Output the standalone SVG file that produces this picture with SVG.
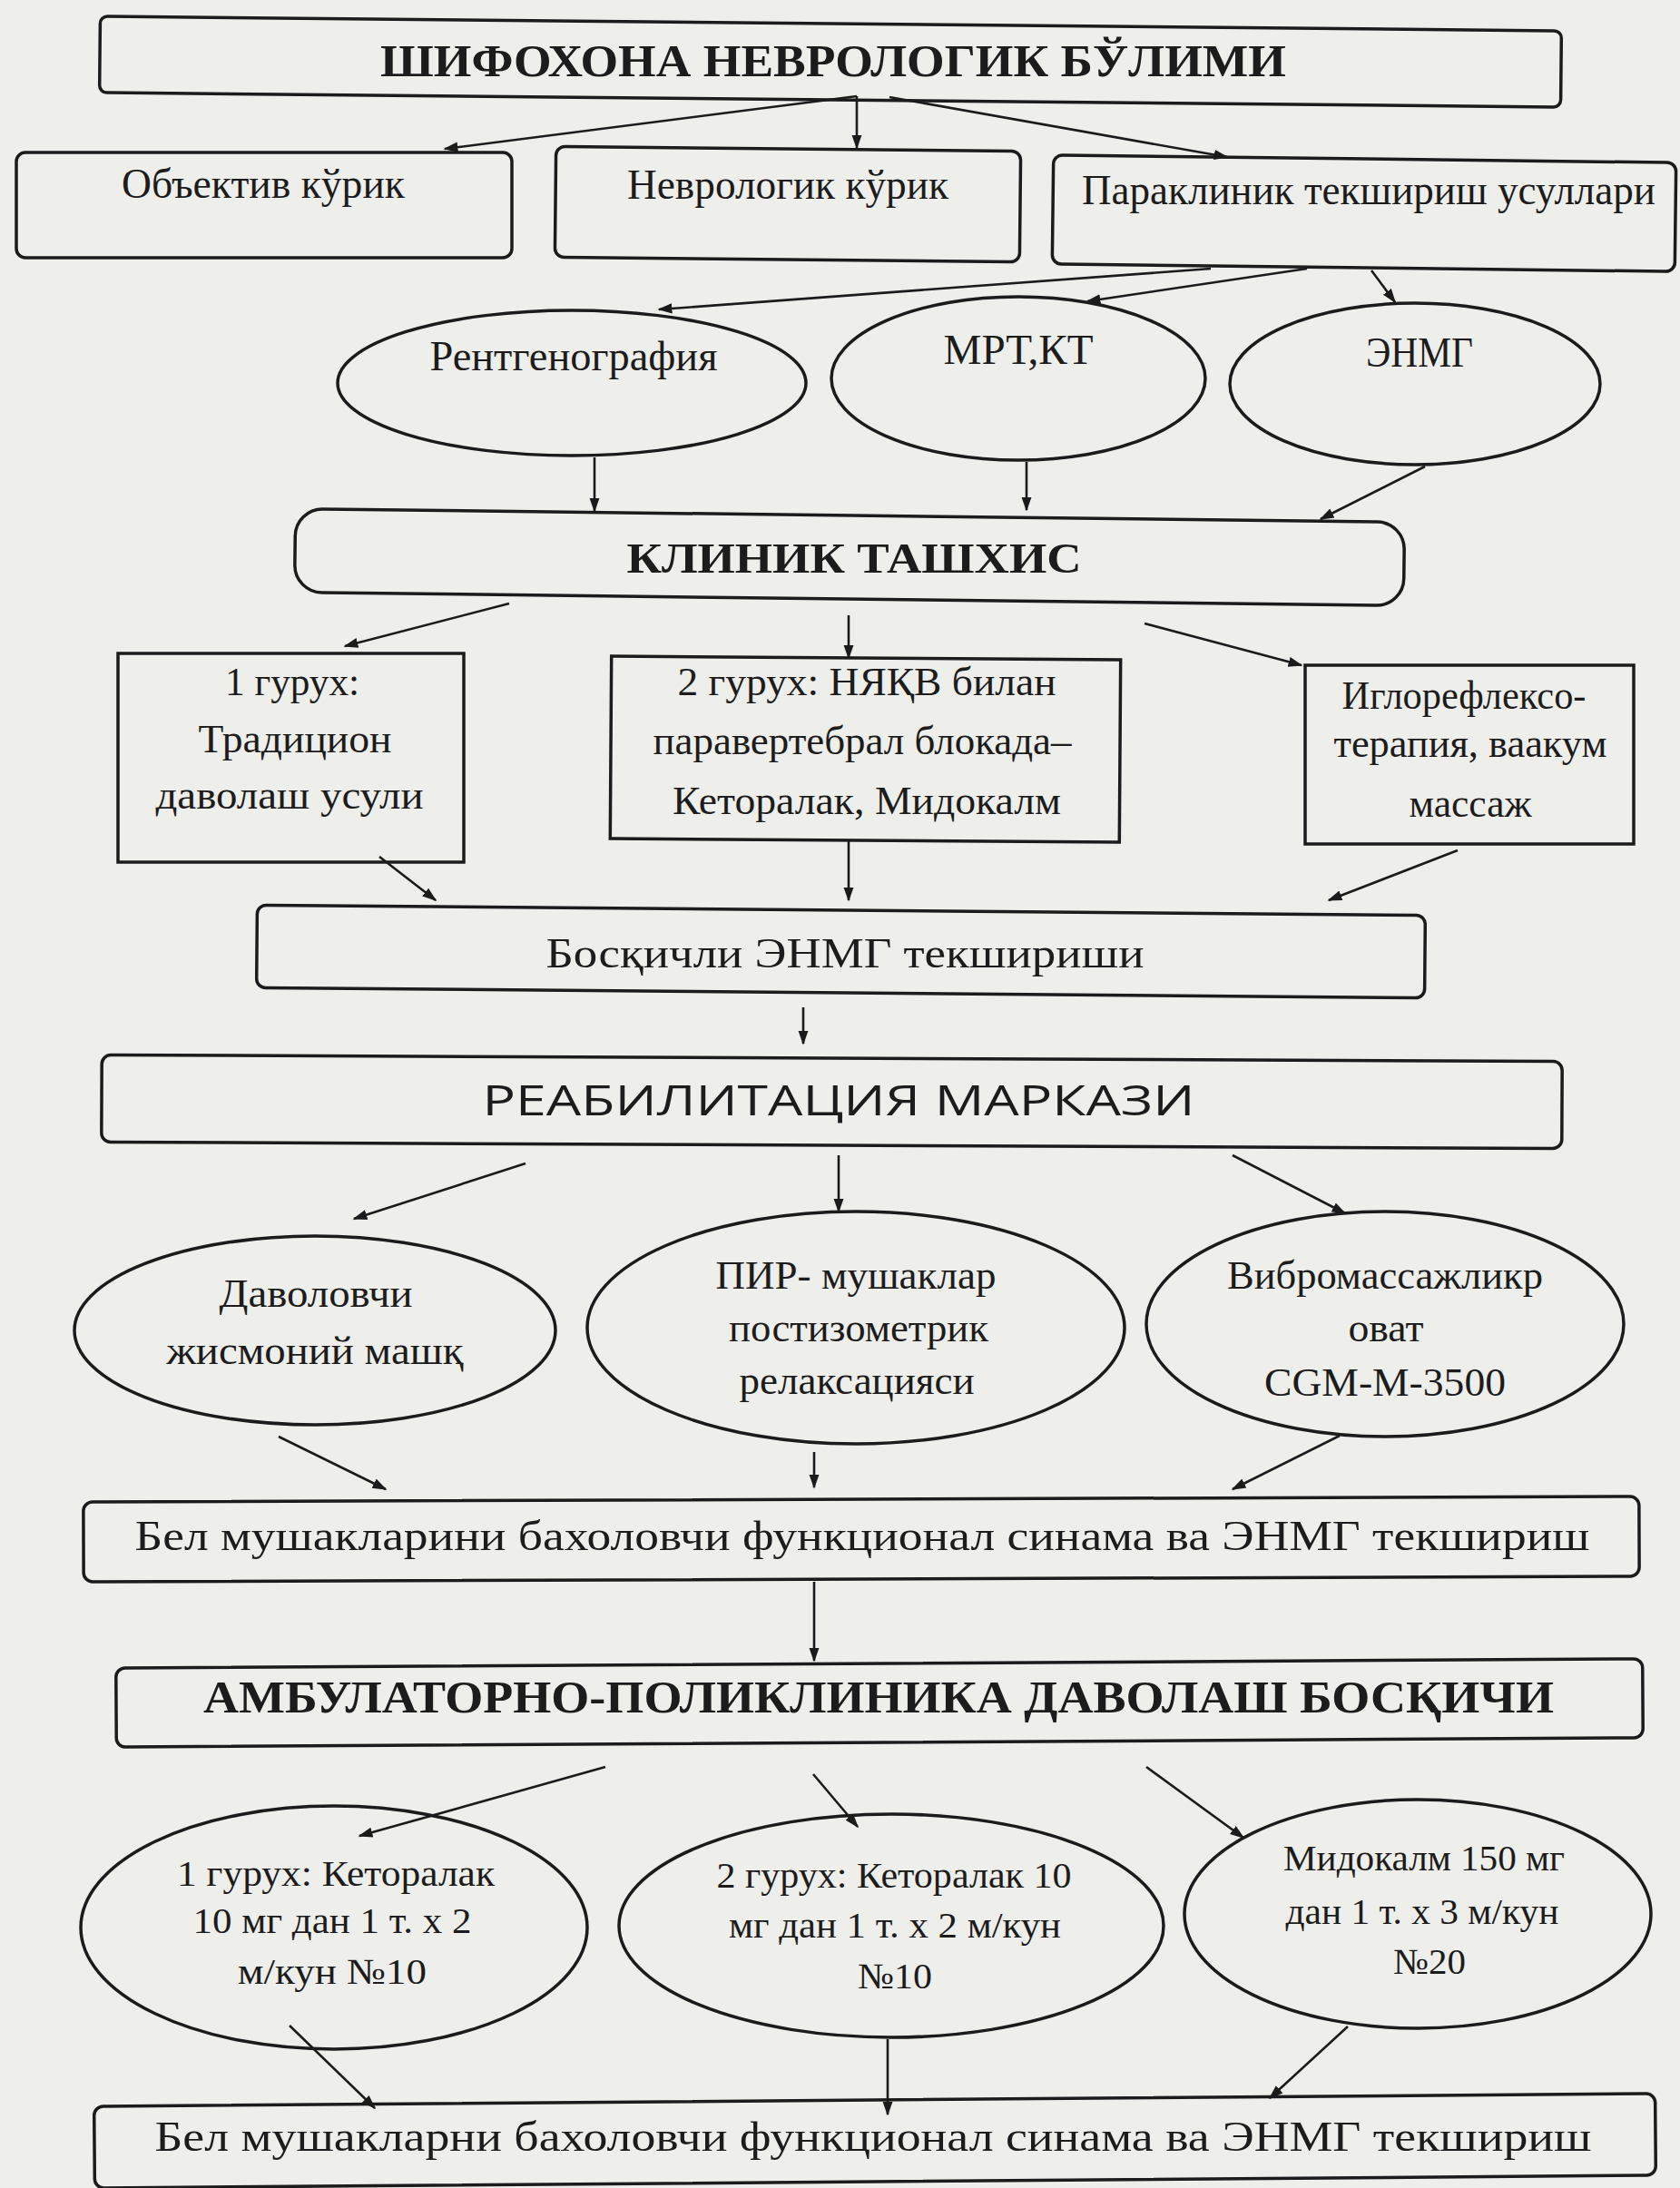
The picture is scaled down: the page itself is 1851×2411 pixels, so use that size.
<svg xmlns="http://www.w3.org/2000/svg" width="1851" height="2411" viewBox="0 0 1851 2411">
<style>
.bx{fill:none;stroke:#1b1b1b;stroke-width:3.5}
.el{fill:none;stroke:#1b1b1b;stroke-width:3.5}
.t{font-family:"Liberation Serif","Times New Roman",serif;font-size:46px;fill:#1c1c1c;text-anchor:middle}
.t2{font-family:"Liberation Serif","Times New Roman",serif;font-size:44px;fill:#1c1c1c;text-anchor:middle}
.t3{font-family:"Liberation Serif","Times New Roman",serif;font-size:40px;fill:#1c1c1c;text-anchor:middle}
.tb{font-family:"Liberation Serif","Times New Roman",serif;font-weight:bold;fill:#1c1c1c;text-anchor:middle}
.ts{font-family:"Open Sans","Noto Sans",sans-serif;fill:#1c1c1c;text-anchor:middle}
.ar{stroke:#1b1b1b;stroke-width:2.6;fill:none;marker-end:url(#ah)}
</style>
<defs>
<marker id="ah" viewBox="0 0 10 10" refX="9" refY="5" markerWidth="16" markerHeight="16" markerUnits="userSpaceOnUse" orient="auto"><path d="M0,1.5 L10,5 L0,8.5 z" fill="#1b1b1b"/></marker>
</defs>
<rect width="1851" height="2411" fill="#eeeeeb"/>

<g id="connectors">
<line class="ar" x1="944" y1="106" x2="490" y2="164"/>
<line class="ar" x1="944" y1="106" x2="944" y2="163"/>
<line class="ar" x1="980" y1="107" x2="1352" y2="173"/>
<line class="ar" x1="1334" y1="296" x2="726" y2="341"/>
<line class="ar" x1="1440" y1="296" x2="1198" y2="332"/>
<line class="ar" x1="1511" y1="298" x2="1537" y2="333"/>
<line class="ar" x1="655" y1="504" x2="655" y2="563"/>
<line class="ar" x1="1131" y1="509" x2="1131" y2="562"/>
<line class="ar" x1="1570" y1="514" x2="1455" y2="572"/>
<line class="ar" x1="561" y1="665" x2="380" y2="712"/>
<line class="ar" x1="935" y1="678" x2="935" y2="725"/>
<line class="ar" x1="1261" y1="687" x2="1434" y2="733"/>
<line class="ar" x1="418" y1="944" x2="480" y2="992"/>
<line class="ar" x1="935" y1="927" x2="935" y2="992"/>
<line class="ar" x1="1606" y1="937" x2="1464" y2="992"/>
<line class="ar" x1="885" y1="1110" x2="885" y2="1150"/>
<line class="ar" x1="579" y1="1282" x2="390" y2="1343"/>
<line class="ar" x1="924" y1="1273" x2="924" y2="1335"/>
<line class="ar" x1="1358" y1="1273" x2="1482" y2="1337"/>
<line class="ar" x1="307" y1="1583" x2="425" y2="1641"/>
<line class="ar" x1="897" y1="1600" x2="897" y2="1639"/>
<line class="ar" x1="1476" y1="1582" x2="1358" y2="1641"/>
<line class="ar" x1="897" y1="1743" x2="897" y2="1830"/>
<line class="ar" x1="667" y1="1947" x2="396" y2="2023"/>
<line class="ar" x1="896" y1="1955" x2="945" y2="2013"/>
<line class="ar" x1="1263" y1="1947" x2="1370" y2="2025"/>
<line class="ar" x1="319" y1="2232" x2="413" y2="2323"/>
<line class="ar" x1="978" y1="2247" x2="978" y2="2330"/>
<line class="ar" x1="1485" y1="2233" x2="1399" y2="2312"/>
</g>

<g id="n-shifoxona">
<rect class="bx" x="110" y="26" width="1610" height="84" rx="8" transform="rotate(0.57 915 68)"/>
<text class="tb" x="918" y="84" font-size="50" textLength="998" lengthAdjust="spacingAndGlyphs">ШИФОХОНА НЕВРОЛОГИК БЎЛИМИ</text>
</g>
<g id="n-obektiv">
<rect class="bx" x="18" y="168" width="546" height="116" rx="10"/>
<text class="t" x="290" y="218" textLength="312" lengthAdjust="spacingAndGlyphs">Объектив кўрик</text>
</g>
<g id="n-nevrologik">
<rect class="bx" x="612" y="164" width="512" height="122" rx="10" transform="rotate(0.6 868 225)"/>
<text class="t" x="868" y="219" textLength="354" lengthAdjust="spacingAndGlyphs">Неврологик кўрик</text>
</g>
<g id="n-paraklinik">
<rect class="bx" x="1160" y="175" width="686" height="120" rx="10" transform="rotate(0.7 1503 235)"/>
<text class="t" x="1508" y="225" textLength="632" lengthAdjust="spacingAndGlyphs">Параклиник текшириш усуллари</text>
</g>

<g id="n-rentgen">
<ellipse class="el" cx="630" cy="422" rx="258" ry="80"/>
<text class="t" x="632" y="408" textLength="317" lengthAdjust="spacingAndGlyphs">Рентгенография</text>
</g>
<g id="n-mrt">
<ellipse class="el" cx="1122" cy="417" rx="206" ry="90"/>
<text class="t" x="1122" y="401" textLength="165" lengthAdjust="spacingAndGlyphs">МРТ,КТ</text>
</g>
<g id="n-enmg1">
<ellipse class="el" cx="1559" cy="423" rx="204" ry="89"/>
<text class="t" x="1564" y="404" textLength="118" lengthAdjust="spacingAndGlyphs">ЭНМГ</text>
</g>

<g id="n-klinik">
<rect class="bx" x="325" y="568" width="1222" height="92" rx="30" transform="rotate(0.7 936 614)"/>
<text class="tb" x="941" y="631" font-size="46" textLength="501" lengthAdjust="spacingAndGlyphs">КЛИНИК ТАШХИС</text>
</g>

<g id="n-guruh1">
<rect class="bx" x="130" y="720" width="381" height="230"/>
<text class="t2" x="322" y="766" textLength="148" lengthAdjust="spacingAndGlyphs">1 гурух:</text>
<text class="t2" x="325" y="829" textLength="213" lengthAdjust="spacingAndGlyphs">Традицион</text>
<text class="t2" x="319" y="891" textLength="295" lengthAdjust="spacingAndGlyphs">даволаш усули</text>
</g>
<g id="n-guruh2">
<rect class="bx" x="673" y="725" width="561" height="201" transform="rotate(0.4 953 825)"/>
<text class="t2" x="955" y="766" textLength="417" lengthAdjust="spacingAndGlyphs">2 гурух: НЯҚВ билан</text>
<text class="t2" x="950" y="831" textLength="461" lengthAdjust="spacingAndGlyphs">паравертебрал блокада–</text>
<text class="t2" x="955" y="897" textLength="428" lengthAdjust="spacingAndGlyphs">Кеторалак, Мидокалм</text>
</g>
<g id="n-igloref">
<rect class="bx" x="1438" y="733" width="362" height="197"/>
<text class="t2" x="1613" y="781" textLength="269" lengthAdjust="spacingAndGlyphs">Иглорефлексо-</text>
<text class="t2" x="1620" y="834" textLength="301" lengthAdjust="spacingAndGlyphs">терапия, ваакум</text>
<text class="t2" x="1620" y="900" textLength="135" lengthAdjust="spacingAndGlyphs">массаж</text>
</g>

<g id="n-bosqichli">
<rect class="bx" x="283" y="1003" width="1287" height="91" rx="10" transform="rotate(0.5 926 1048)"/>
<text class="t" x="931" y="1066" textLength="659" lengthAdjust="spacingAndGlyphs">Босқичли ЭНМГ текшириши</text>
</g>

<g id="n-reabilitatsiya">
<rect class="bx" x="112" y="1166" width="1609" height="96" rx="10" transform="rotate(0.25 916 1214)"/>
<text class="ts" x="924" y="1229" font-size="46" textLength="785" lengthAdjust="spacingAndGlyphs">РЕАБИЛИТАЦИЯ МАРКАЗИ</text>
</g>

<g id="n-davolovchi">
<ellipse class="el" cx="347" cy="1466" rx="265" ry="104"/>
<text class="t2" x="348" y="1440" textLength="213" lengthAdjust="spacingAndGlyphs">Даволовчи</text>
<text class="t2" x="347" y="1503" textLength="327" lengthAdjust="spacingAndGlyphs">жисмоний машқ</text>
</g>
<g id="n-pir">
<ellipse class="el" cx="943" cy="1463" rx="296" ry="128"/>
<text class="t2" x="943" y="1420" textLength="309" lengthAdjust="spacingAndGlyphs">ПИР- мушаклар</text>
<text class="t2" x="946" y="1478" textLength="286" lengthAdjust="spacingAndGlyphs">постизометрик</text>
<text class="t2" x="944" y="1536" textLength="259" lengthAdjust="spacingAndGlyphs">релаксацияси</text>
</g>
<g id="n-vibro">
<ellipse class="el" cx="1526" cy="1459" rx="263" ry="124"/>
<text class="t2" x="1526" y="1420" textLength="348" lengthAdjust="spacingAndGlyphs">Вибромассажликр</text>
<text class="t2" x="1527" y="1478" textLength="83" lengthAdjust="spacingAndGlyphs">оват</text>
<text class="t2" x="1526" y="1538" textLength="266" lengthAdjust="spacingAndGlyphs">CGM-M-3500</text>
</g>

<g id="n-bel1">
<rect class="bx" x="92" y="1652" width="1714" height="88" rx="10" transform="rotate(-0.2 949 1696)"/>
<text x="950" y="1708" class="t" font-size="52" textLength="1603" lengthAdjust="spacingAndGlyphs">Бел мушакларини бахоловчи функционал синама ва ЭНМГ текшириш</text>
</g>

<g id="n-ambulator">
<rect class="bx" x="128" y="1833" width="1682" height="87" rx="10" transform="rotate(-0.35 969 1876)"/>
<text class="tb" x="968" y="1887" font-size="50" textLength="1488" lengthAdjust="spacingAndGlyphs">АМБУЛАТОРНО-ПОЛИКЛИНИКА ДАВОЛАШ БОСҚИЧИ</text>
</g>

<g id="n-ket1">
<ellipse class="el" cx="368" cy="2124" rx="279" ry="134"/>
<text class="t3" x="370" y="2078" textLength="350" lengthAdjust="spacingAndGlyphs">1 гурух: Кеторалак</text>
<text class="t3" x="366" y="2130" textLength="307" lengthAdjust="spacingAndGlyphs">10 мг дан 1 т. х 2</text>
<text class="t3" x="366" y="2186" textLength="208" lengthAdjust="spacingAndGlyphs">м/кун  №10</text>
</g>
<g id="n-ket2">
<ellipse class="el" cx="982" cy="2122" rx="300" ry="123"/>
<text class="t3" x="985" y="2080" textLength="391" lengthAdjust="spacingAndGlyphs">2 гурух: Кеторалак 10</text>
<text class="t3" x="986" y="2135" textLength="366" lengthAdjust="spacingAndGlyphs">мг дан 1 т. х 2 м/кун</text>
<text class="t3" x="986" y="2191" textLength="82" lengthAdjust="spacingAndGlyphs">№10</text>
</g>
<g id="n-midokalm">
<ellipse class="el" cx="1562" cy="2109" rx="257" ry="126"/>
<text class="t3" x="1569" y="2061" textLength="310" lengthAdjust="spacingAndGlyphs">Мидокалм 150 мг</text>
<text class="t3" x="1567" y="2120" textLength="301" lengthAdjust="spacingAndGlyphs">дан 1 т. х 3 м/кун</text>
<text class="t3" x="1575" y="2175" textLength="80" lengthAdjust="spacingAndGlyphs">№20</text>
</g>

<g id="n-bel2">
<rect class="bx" x="104" y="2314" width="1720" height="90" rx="10" transform="rotate(-0.47 964 2359)"/>
<text class="t" x="962" y="2370" font-size="52" textLength="1583" lengthAdjust="spacingAndGlyphs">Бел мушакларни бахоловчи функционал синама ва ЭНМГ текшириш</text>
</g>
</svg>
